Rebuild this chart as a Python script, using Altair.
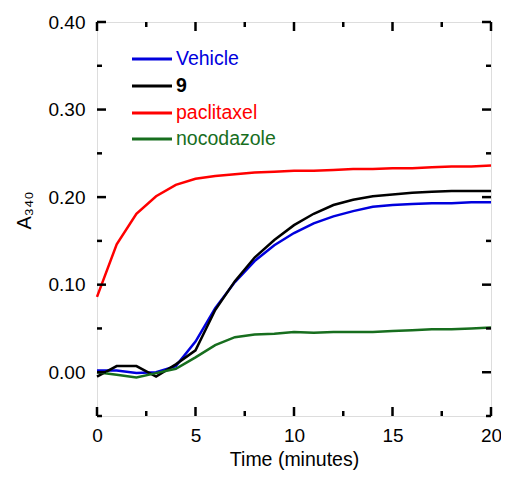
import altair as alt
import pandas as pd

# ---- data ----
time_min = list(range(0, 21))
vehicle = [0.002, 0.002, -0.001, 0.000, 0.007, 0.035, 0.073, 0.103, 0.127, 0.145, 0.159,
           0.170, 0.178, 0.184, 0.189, 0.191, 0.192, 0.193, 0.193, 0.194, 0.194]
cmpd9 = [-0.005, 0.007, 0.007, -0.005, 0.009, 0.025, 0.071, 0.104, 0.131, 0.151, 0.168,
         0.181, 0.191, 0.197, 0.201, 0.203, 0.205, 0.206, 0.207, 0.207, 0.207]
paclitaxel = [0.086, 0.146, 0.181, 0.201, 0.214, 0.221, 0.224, 0.226, 0.228, 0.229, 0.230,
              0.230, 0.231, 0.232, 0.232, 0.233, 0.233, 0.234, 0.235, 0.235, 0.236]
nocodazole = [0.000, -0.003, -0.006, -0.001, 0.004, 0.017, 0.031, 0.040, 0.043, 0.044, 0.046,
              0.045, 0.046, 0.046, 0.046, 0.047, 0.048, 0.049, 0.049, 0.050, 0.051]

series_names = ["Vehicle", "9", "paclitaxel", "nocodazole"]
series_colors = ["#0000DD", "#000000", "#FF0000", "#176E1E"]
series_values = [vehicle, cmpd9, paclitaxel, nocodazole]

x_major = [0, 5, 10, 15, 20]
x_minor = [2.5, 7.5, 12.5, 17.5]
y_major = [0.0, 0.1, 0.2, 0.3, 0.4]
y_minor = [-0.05, 0.05, 0.15, 0.25, 0.35]

FONT = "Liberation Sans"
W, H = 394, 394

rows = []
for name, vals in zip(series_names, series_values):
    for t, v in zip(time_min, vals):
        rows.append({"t": t, "A": v, "series": name})
df = pd.DataFrame(rows)

xscale = alt.Scale(domain=[0, 20], nice=False)
yscale = alt.Scale(domain=[-0.05, 0.40], nice=False, zero=False)

lines = alt.Chart(df).mark_line(strokeWidth=2.5).encode(
    x=alt.X("t:Q", scale=xscale,
            axis=alt.Axis(values=x_major, format="d", ticks=False, domain=False, grid=False,
                          labelFlush=False, labelBound=False, labelOverlap=False,
                          labelFontSize=19, labelFont=FONT, labelColor="black", labelPadding=10,
                          title="Time (minutes)", titleFont=FONT, titleFontSize=19.5,
                          titleFontWeight="normal", titleColor="black", titlePadding=5)),
    y=alt.Y("A:Q", scale=yscale,
            axis=alt.Axis(values=y_major, format=".2f", ticks=False, domain=False, grid=False,
                          labelFlush=False, labelBound=False, labelOverlap=False,
                          labelFontSize=19, labelFont=FONT, labelColor="black", labelPadding=12,
                          title="A₃₄₀", titleFont=FONT, titleFontSize=20, titleFontWeight="normal",
                          titleColor="black", titlePadding=14, titleY=188)),
    color=alt.Color("series:N", scale=alt.Scale(domain=series_names, range=series_colors), legend=None),
    order=alt.Order("t:Q"),
)

layers = [lines]

def xticks(vals, length):
    d = pd.DataFrame({"t": vals})
    b = alt.Chart(d).mark_rule(color="black", strokeWidth=2.5).encode(
        x=alt.X("t:Q", scale=xscale), y=alt.value(H), y2=alt.value(H - length))
    t = alt.Chart(d).mark_rule(color="black", strokeWidth=2.5).encode(
        x=alt.X("t:Q", scale=xscale), y=alt.value(0), y2=alt.value(length))
    return [b, t]

def yticks(vals, length):
    d = pd.DataFrame({"A": vals})
    l = alt.Chart(d).mark_rule(color="black", strokeWidth=2.5).encode(
        y=alt.Y("A:Q", scale=yscale), x=alt.value(0), x2=alt.value(length))
    r = alt.Chart(d).mark_rule(color="black", strokeWidth=2.5).encode(
        y=alt.Y("A:Q", scale=yscale), x=alt.value(W), x2=alt.value(W - length))
    return [l, r]

layers += xticks(x_major, 9) + xticks(x_minor, 5) + yticks(y_major, 9) + yticks(y_minor, 5)

# legend
legend_rows = [37, 64, 91, 117]
for name, col, ry in zip(series_names, series_colors, legend_rows):
    d = pd.DataFrame({"label": [name]})
    layers.append(alt.Chart(d).mark_rule(color=col, strokeWidth=3).encode(
        x=alt.value(35), x2=alt.value(75), y=alt.value(ry)))
    layers.append(alt.Chart(d).mark_text(
        color=col, font=FONT, fontSize=19.5, align="left", baseline="middle",
        fontWeight="bold" if name == "9" else "normal").encode(
        text="label:N", x=alt.value(79), y=alt.value(ry)))

chart = alt.layer(*layers).properties(
    width=W, height=H,
    autosize=alt.AutoSizeParams(type="none"),
    padding={"left": 89, "top": 14, "right": 10, "bottom": 55},
).configure_view(stroke="black", strokeWidth=2.5).configure(background="white")

chart.save("out.html", embed_options={"renderer": "svg", "actions": False})
